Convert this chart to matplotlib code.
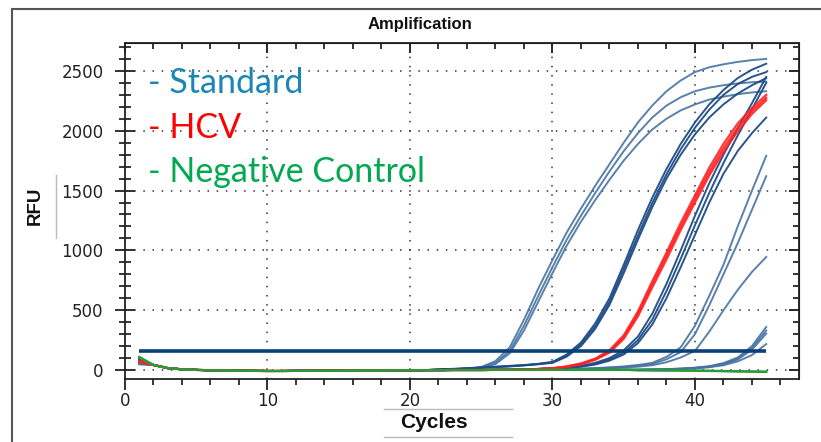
import matplotlib as mpl
mpl.use('Agg')
import matplotlib.pyplot as plt
from matplotlib.lines import Line2D
import numpy as np

# ---- data (RFU per cycle) ----
cycles = list(range(1, 46))
threshold = 163

# flat well reading, cycles 1..45
baseline = [80, 42, 16, 6, 1, -2, -4, -6, -7, -8, -8, -7, -7, -6, -6, -5, -4, -4, -3, -2,
            -1, -1, 0, 0, 0, 1, 1, 1, 1, 1, 2, 2, 2, 2, 2, 2, 2, 2, 2, 2, 2, 2, 2, 2, 2]

# standards: tails replace the end of the baseline
std_a1 = [3, 6, 12, 25, 75, 190, 420, 680, 920, 1150, 1350, 1540, 1720, 1900, 2070, 2210,
          2330, 2420, 2490, 2530, 2555, 2575, 2590, 2600]
std_a2 = [2, 5, 10, 20, 60, 160, 370, 620, 860, 1090, 1290, 1480, 1660, 1830, 1980, 2110,
          2210, 2280, 2330, 2360, 2380, 2395, 2405, 2410]
std_a3 = [2, 4, 8, 16, 50, 140, 330, 570, 810, 1040, 1240, 1420, 1590, 1750, 1890, 2010,
          2100, 2170, 2220, 2260, 2285, 2305, 2320, 2330]
std_b1 = [5, 10, 15, 22, 28, 35, 42, 52, 68, 130, 230, 390, 600, 880, 1170, 1440, 1680,
          1890, 2070, 2220, 2340, 2440, 2510, 2560]
std_b2 = [4, 8, 13, 20, 26, 32, 40, 50, 64, 120, 215, 365, 570, 845, 1125, 1395, 1635,
          1845, 2025, 2175, 2300, 2390, 2450, 2490]
std_b3 = [4, 8, 12, 18, 24, 30, 38, 48, 60, 112, 200, 345, 545, 810, 1090, 1360, 1600,
          1800, 1970, 2110, 2220, 2310, 2380, 2440]
std_c1 = [2, 4, 6, 10, 15, 22, 35, 60, 100, 165, 280, 470, 720, 1000, 1290, 1560, 1800,
          2020, 2230, 2450]
std_c2 = [2, 3, 5, 9, 14, 20, 32, 52, 88, 145, 250, 420, 660, 930, 1210, 1480, 1730,
          1960, 2180, 2400]
std_c3 = [2, 3, 5, 8, 12, 18, 28, 46, 78, 130, 225, 380, 600, 860, 1130, 1400, 1640,
          1830, 1980, 2110]
std_d1 = [5, 8, 12, 16, 22, 30, 42, 60, 110, 190, 370, 620, 880, 1200, 1500, 1790]
std_d2 = [4, 7, 10, 14, 19, 26, 36, 50, 90, 150, 300, 540, 800, 1060, 1340, 1620]
std_e1 = [3, 5, 8, 11, 15, 20, 28, 40, 65, 105, 160, 320, 500, 670, 820, 945]
std_f1 = [3, 5, 8, 12, 20, 32, 58, 105, 200, 360]
std_f2 = [3, 5, 7, 11, 18, 29, 52, 95, 185, 330]
std_f3 = [2, 4, 7, 10, 16, 27, 48, 88, 170, 305]
std_f4 = [2, 4, 6, 9, 14, 23, 40, 72, 125, 217]

hcv_1 = [2, 3, 5, 8, 15, 30, 55, 95, 165, 290, 490, 740, 980, 1230, 1460, 1690, 1890,
         2060, 2190, 2300]
hcv_2 = [2, 3, 5, 8, 14, 28, 52, 90, 155, 275, 470, 715, 955, 1200, 1430, 1655, 1855,
         2025, 2165, 2275]
hcv_3 = [2, 3, 4, 7, 13, 26, 48, 85, 145, 260, 450, 690, 925, 1170, 1400, 1625, 1825,
         1995, 2140, 2255]

neg_1 = [-2, -3, -4, -5, -6, -8, -10, -12, -14, -16]
neg_2 = [-1, -2, -3, -4, -5, -6, -8, -10, -12, -13]

# first-cycle readings
std_light = [(60, std_a1), (55, std_a2), (50, std_a3), (100, std_d1), (105, std_d2),
             (68, std_e1), (90, std_f1), (85, std_f2), (60, std_f3), (48, std_f4)]
std_dark = [(95, std_b1), (90, std_b2), (85, std_b3), (80, std_c1), (78, std_c2),
            (72, std_c3)]
hcv = [(70, hcv_1), (75, hcv_2), (65, hcv_3)]
neg = [(110, neg_1), (100, neg_2)]


def well(start, tail):
    vals = list(baseline)
    vals[0] = start
    vals[len(vals) - len(tail):] = tail
    return vals


W, H = 821, 442
fig = plt.figure(figsize=(W / 100, H / 100), dpi=100)
ax = fig.add_axes([125 / W, 1 - 379 / H, (799 - 125) / W, (379 - 43) / H])

for s, t in std_light:
    ax.plot(cycles, well(s, t), color='#4773a3', lw=1.4, alpha=0.9, zorder=3)
for s, t in std_dark:
    ax.plot(cycles, well(s, t), color='#1d4c86', lw=1.4, alpha=0.95, zorder=3)
for s, t in hcv:
    ax.plot(cycles, well(s, t), color='#ff2222', lw=1.6, alpha=0.9, zorder=4)
for s, t in neg:
    ax.plot(cycles, well(s, t), color='#2a9a3a', lw=1.6, zorder=5)

ax.hlines(threshold, 1, 45, color='#0b3f78', lw=2.6, zorder=6)

ax.set_xlim(0, 47.3)
ax.set_ylim(-75, 2733)
ax.set_xticks([0, 10, 20, 30, 40])
ax.set_xticks(np.arange(0, 47, 2), minor=True)
ax.set_yticks([0, 500, 1000, 1500, 2000, 2500])
ax.set_yticks(np.arange(0, 2701, 100), minor=True)

ax.grid(True, which='major', linestyle=(0, (1, 5)), color='#333333', lw=1.1)
for sp in ax.spines.values():
    sp.set_color('#222222')
    sp.set_linewidth(1.3)

ax.tick_params(axis='x', which='major', direction='out', length=8, width=1.3,
               pad=1, labelsize=12, colors='#222222')
ax.tick_params(axis='x', which='minor', direction='out', length=4, width=1.1)
ax.tick_params(axis='y', which='major', direction='inout', length=15, width=1.3,
               pad=8, labelsize=12, colors='#222222')
ax.tick_params(axis='y', which='minor', direction='inout', length=8, width=1.1)

top = ax.secondary_xaxis('top')
top.set_xticks([0, 10, 20, 30, 40], labels=[])
top.set_xticks(np.arange(0, 47, 2), minor=True)
top.tick_params(which='major', direction='in', length=7, width=1.2)
top.tick_params(which='minor', direction='in', length=4, width=1.1)
right = ax.secondary_yaxis('right')
right.set_yticks([0, 500, 1000, 1500, 2000, 2500], labels=[])
right.set_yticks(np.arange(0, 2701, 100), minor=True)
right.tick_params(which='major', direction='in', length=7, width=1.2)
right.tick_params(which='minor', direction='in', length=4, width=1.1)

# titles
fig.text(420 / W, 1 - 25 / H, 'Amplification', ha='center', va='center',
         fontsize=12, fontweight='bold', family='Liberation Sans', color='#111111')
fig.text(35 / W, 1 - 206 / H, 'RFU', ha='center', va='center', rotation=90,
         fontsize=13.5, fontweight='bold', family='Liberation Sans', color='#111111')
fig.text(434 / W, 1 - 423 / H, 'Cycles', ha='center', va='center',
         fontsize=15, fontweight='bold', family='Liberation Sans', color='#111111')

# legend text
fig.text(148 / W, 1 - 93 / H, '- Standard', ha='left', va='baseline',
         fontsize=24.5, family='Lato', color='#1b86b6')
fig.text(148 / W, 1 - 138 / H, '- HCV', ha='left', va='baseline',
         fontsize=24.5, family='Lato', color='#ff0000')
fig.text(148 / W, 1 - 182 / H, '- Negative Control', ha='left', va='baseline',
         fontsize=24.5, family='Lato', color='#00a850')

# window frame and label separators
fig.add_artist(Line2D([12 / W, 12 / W], [0, 1 - 9 / H], color='#555555', lw=1.5))
fig.add_artist(Line2D([12 / W, 1], [1 - 9 / H, 1 - 9 / H], color='#555555', lw=1.5))
fig.add_artist(Line2D([56 / W, 56 / W], [1 - 175 / H, 1 - 238 / H], color='#bbbbbb', lw=1))
fig.add_artist(Line2D([384 / W, 512 / W], [1 - 409 / H, 1 - 409 / H], color='#bbbbbb', lw=1))
fig.add_artist(Line2D([384 / W, 512 / W], [1 - 437 / H, 1 - 437 / H], color='#bbbbbb', lw=1))

fig.savefig('out.png', dpi=100)
